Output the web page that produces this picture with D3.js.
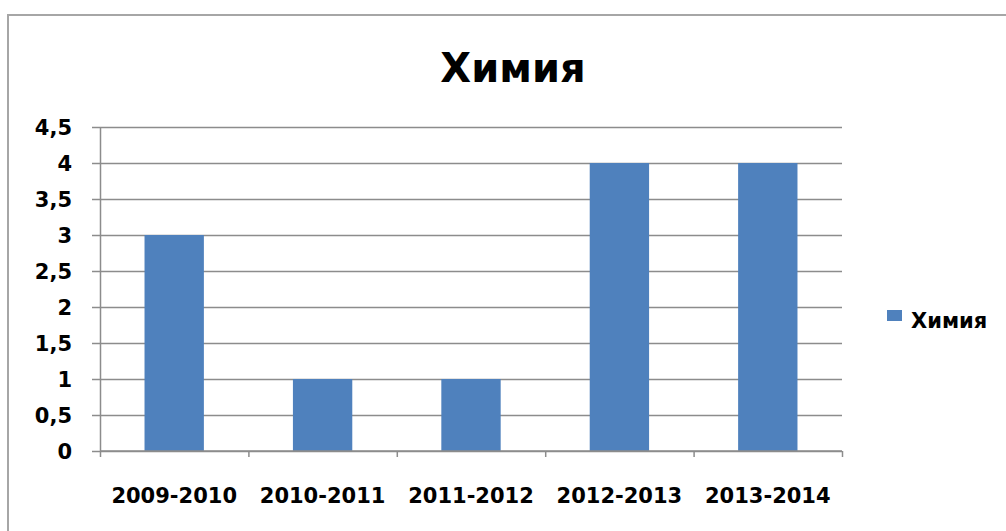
<!DOCTYPE html>
<html>
<head>
<meta charset="utf-8">
<script src="https://cdn.jsdelivr.net/npm/d3@7"></script>
<style>
  body { margin: 0; background: #fff; }
  text { font-family: "DejaVu Sans", Verdana, sans-serif; font-weight: bold; fill: #000; }
</style>
</head>
<body>
<div id="chart-area"></div>
<script>
var years = ["2009-2010", "2010-2011", "2011-2012", "2012-2013", "2013-2014"];
var values = [3, 1, 1, 4, 4];
var yTicks = [0, 0.5, 1, 1.5, 2, 2.5, 3, 3.5, 4, 4.5];
var seriesName = "Химия";

var W = 1006, H = 531;
var plot = {left: 100, right: 842, top: 127, bottom: 451};

var svg = d3.select("#chart-area")
    .append("svg")
    .attr("width", W)
    .attr("height", H);

// outer frame
svg.append("rect")
    .attr("x", 8)
    .attr("y", 15)
    .attr("width", 1030)
    .attr("height", 540)
    .attr("fill", "none")
    .attr("stroke", "#a6a6a6")
    .attr("stroke-width", 2);

var x = d3.scaleBand()
    .domain(years)
    .range([plot.left, plot.right])
    .paddingInner(0.6)
    .paddingOuter(0.3);

var xEdge = d3.scaleLinear()
    .domain([0, years.length])
    .range([plot.left, plot.right]);

var y = d3.scaleLinear()
    .domain([0, 4.5])
    .range([plot.bottom, plot.top]);

// gridlines
var grid = svg.append("g")
    .attr("transform", "translate(" + plot.right + ",0)")
    .call(d3.axisLeft(y).tickValues(yTicks).tickSize(plot.right - plot.left + 8).tickFormat(""));
grid.select(".domain").remove();
grid.selectAll("line").attr("stroke", "#8c8c8c").attr("stroke-width", 1.5);

// bars
svg.selectAll("rect.bar")
    .data(values)
    .enter()
    .append("rect")
    .attr("class", "bar")
    .attr("x", (d, i) => x(years[i]))
    .attr("y", (d) => y(d))
    .attr("width", x.bandwidth())
    .attr("height", (d) => plot.bottom - y(d))
    .attr("fill", "#4f81bd");

// y axis
var yAxis = svg.append("g")
    .attr("transform", "translate(" + plot.left + ",0)")
    .call(d3.axisLeft(y).tickValues(yTicks).tickSize(0).tickPadding(28)
        .tickFormat((d) => String(d).replace(".", ",")));
yAxis.select(".domain").attr("stroke", "#8c8c8c").attr("stroke-width", 1.5);
yAxis.selectAll("text").style("font-size", "21px").attr("dy", "0.36em");

// x axis tick marks at category edges
var xTicks = svg.append("g")
    .attr("transform", "translate(0," + plot.bottom + ")")
    .call(d3.axisBottom(xEdge).tickValues(d3.range(years.length + 1)).tickSize(6).tickFormat(""));
xTicks.selectAll("line").attr("stroke", "#8c8c8c").attr("stroke-width", 1.5);
xTicks.select(".domain").attr("d", "M" + plot.left + ",0H" + plot.right)
    .attr("stroke", "#8c8c8c").attr("stroke-width", 1.5);

// x labels
var xAxis = svg.append("g")
    .attr("transform", "translate(0," + plot.bottom + ")")
    .call(d3.axisBottom(x).tickSize(0).tickPadding(37));
xAxis.select(".domain").remove();
xAxis.selectAll("text").style("font-size", "21px");

// title
svg.append("text")
    .attr("x", 513)
    .attr("y", 82)
    .attr("text-anchor", "middle")
    .style("font-size", "40px")
    .text(seriesName);

// legend
svg.append("rect")
    .attr("x", 887)
    .attr("y", 310)
    .attr("width", 15)
    .attr("height", 11)
    .attr("fill", "#4f81bd");

svg.append("text")
    .attr("x", 911)
    .attr("y", 328)
    .style("font-size", "21px")
    .text(seriesName);
</script>
</body>
</html>
